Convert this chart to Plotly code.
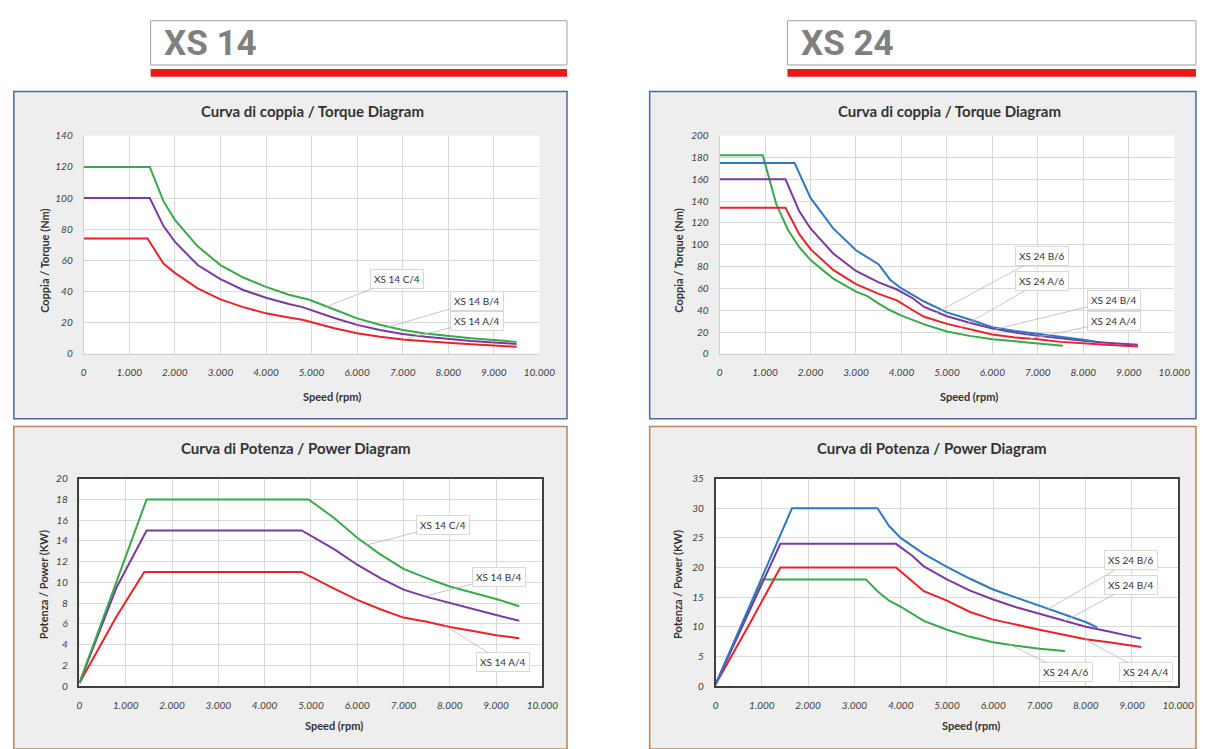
import plotly.graph_objects as go

W, H = 1208, 749

# ---------------- DATA ----------------
x_ticks = [0, 1000, 2000, 3000, 4000, 5000, 6000, 7000, 8000, 9000, 10000]
x_tick_text = ["0", "1.000", "2.000", "3.000", "4.000", "5.000", "6.000", "7.000", "8.000", "9.000", "10.000"]

# XS 14 torque (Nm)
xs14_c4_t_x = [0, 1450, 1750, 2000, 2500, 3000, 3500, 4000, 4500, 4950, 5500, 6000, 6500, 7000, 7500, 8000, 8500, 9000, 9500]
xs14_c4_t_y = [120, 120, 98, 86, 69, 57, 49, 43, 38, 34.7, 28.5, 22.8, 18.7, 15.3, 13.1, 11.5, 10.1, 8.9, 7.7]
xs14_b4_t_x = [0, 1450, 1750, 2000, 2500, 3000, 3500, 4000, 4500, 4800, 5500, 6000, 6500, 7000, 7500, 8000, 8500, 9000, 9500]
xs14_b4_t_y = [100, 100, 82, 72, 57, 48, 41, 36, 32, 30, 23, 18.6, 15.3, 12.7, 11, 9.5, 8.3, 7.3, 6.4]
xs14_a4_t_x = [0, 1400, 1750, 2000, 2500, 3000, 3500, 4000, 4500, 4800, 5500, 6000, 6500, 7000, 7500, 8000, 8500, 9000, 9500]
xs14_a4_t_y = [74, 74, 58, 52, 42, 35, 30, 26, 23.4, 21.9, 16.5, 13.3, 11.0, 9.3, 8.1, 7.0, 6.1, 5.3, 4.6]

# XS 14 power (kW)
xs14_c4_p_x = [0, 1450, 4950, 5500, 6000, 6500, 7000, 7500, 8000, 8500, 9000, 9500]
xs14_c4_p_y = [0.3, 18, 18, 16.2, 14.3, 12.7, 11.3, 10.4, 9.6, 9.0, 8.4, 7.7]
xs14_b4_p_x = [0, 800, 1450, 4800, 5500, 6000, 6500, 7000, 7500, 8000, 8500, 9000, 9500]
xs14_b4_p_y = [0.3, 9.5, 15, 15, 13.2, 11.7, 10.4, 9.3, 8.6, 8.0, 7.4, 6.85, 6.3]
xs14_a4_p_x = [0, 800, 1400, 4800, 5500, 6000, 6500, 7000, 7500, 8000, 8500, 9000, 9500]
xs14_a4_p_y = [0.3, 6.7, 11, 11, 9.4, 8.3, 7.4, 6.6, 6.2, 5.7, 5.3, 4.9, 4.6]

# XS 24 torque (Nm)
xs24_b6_t_x = [0, 1650, 2000, 2500, 3000, 3500, 3750, 4000, 4500, 5000, 5500, 6000, 6500, 7000, 7500, 8000, 8250]
xs24_b6_t_y = [175, 175, 143, 115, 95, 82, 68, 60, 48, 38, 31.5, 24.5, 21, 18.5, 15.5, 13, 11.3]
xs24_a6_t_x = [0, 950, 1250, 1500, 1750, 2000, 2500, 3000, 3250, 3500, 3750, 4000, 4500, 5000, 5500, 6000, 6500, 7000, 7550]
xs24_a6_t_y = [182, 182, 137, 114, 98, 86, 69, 57, 53, 46, 40, 35, 27, 20.5, 16.5, 13.5, 11.5, 9.5, 7.5]
xs24_b4_t_x = [0, 1450, 1750, 2000, 2500, 3000, 3500, 3900, 4250, 4500, 5000, 5500, 6000, 6500, 7000, 7500, 8000, 8500, 9200]
xs24_b4_t_y = [160, 160, 131, 115, 92, 76, 65.5, 59, 51, 43, 34.5, 28.5, 23.3, 19.5, 16.5, 14, 12, 10.3, 8.3]
xs24_a4_t_x = [0, 1450, 1750, 2000, 2500, 3000, 3500, 3900, 4250, 4500, 5000, 5500, 6000, 6500, 7000, 7500, 8000, 8500, 9200]
xs24_a4_t_y = [134, 134, 110, 96, 77, 64, 55, 49, 40, 34, 27.5, 23, 17.8, 15, 13.4, 11, 9.4, 8.3, 6.8]

# XS 24 power (kW)
xs24_b6_p_x = [0, 1650, 3500, 3750, 4000, 4500, 5000, 5500, 6000, 6500, 7000, 7500, 8000, 8250]
xs24_b6_p_y = [0.3, 30, 30, 27, 25, 22.3, 20.1, 18.1, 16.3, 14.9, 13.6, 12.1, 10.8, 9.9]
xs24_a6_p_x = [0, 1000, 3250, 3500, 3750, 4000, 4500, 5000, 5500, 6000, 6500, 7000, 7550]
xs24_a6_p_y = [0.3, 18, 18, 16, 14.4, 13.4, 11, 9.5, 8.3, 7.4, 6.8, 6.3, 5.9]
xs24_b4_p_x = [0, 700, 1400, 3900, 4250, 4500, 5000, 5500, 6000, 6500, 7000, 7500, 8000, 8500, 9200]
xs24_b4_p_y = [0.3, 12, 24, 24, 22, 20.2, 18, 16.1, 14.6, 13.3, 12.2, 11, 10.0, 9.2, 8.0]
xs24_a4_p_x = [0, 700, 1400, 3900, 4250, 4500, 5000, 5500, 6000, 6500, 7000, 7500, 8000, 8500, 9200]
xs24_a4_p_y = [0.3, 10, 20, 20, 17.7, 16, 14.4, 12.5, 11.2, 10.3, 9.5, 8.7, 7.9, 7.4, 6.6]

GREEN, PURPLE, RED, BLUE = "#3aa84a", "#7a3aa0", "#e8232b", "#2f78c0"
FONT = "Lato"

def px_x(p):
    return p / W

def px_y(p):
    return 1 - p / H

fig = go.Figure()

def add_line(x, y, color, xa, ya, name):
    fig.add_trace(go.Scatter(x=x, y=y, mode="lines", name=name,
                             line=dict(color=color, width=2),
                             xaxis=xa, yaxis=ya, showlegend=False,
                             hoverinfo="x+y+name"))

# top-left torque XS14
add_line(xs14_a4_t_x, xs14_a4_t_y, RED, "x", "y", "XS 14 A/4")
add_line(xs14_b4_t_x, xs14_b4_t_y, PURPLE, "x", "y", "XS 14 B/4")
add_line(xs14_c4_t_x, xs14_c4_t_y, GREEN, "x", "y", "XS 14 C/4")
# top-right torque XS24
add_line(xs24_a6_t_x, xs24_a6_t_y, GREEN, "x2", "y2", "XS 24 A/6")
add_line(xs24_a4_t_x, xs24_a4_t_y, RED, "x2", "y2", "XS 24 A/4")
add_line(xs24_b4_t_x, xs24_b4_t_y, PURPLE, "x2", "y2", "XS 24 B/4")
add_line(xs24_b6_t_x, xs24_b6_t_y, BLUE, "x2", "y2", "XS 24 B/6")
# bottom-left power XS14
add_line(xs14_a4_p_x, xs14_a4_p_y, RED, "x3", "y3", "XS 14 A/4")
add_line(xs14_b4_p_x, xs14_b4_p_y, PURPLE, "x3", "y3", "XS 14 B/4")
add_line(xs14_c4_p_x, xs14_c4_p_y, GREEN, "x3", "y3", "XS 14 C/4")
# bottom-right power XS24
add_line(xs24_a6_p_x, xs24_a6_p_y, GREEN, "x4", "y4", "XS 24 A/6")
add_line(xs24_a4_p_x, xs24_a4_p_y, RED, "x4", "y4", "XS 24 A/4")
add_line(xs24_b4_p_x, xs24_b4_p_y, PURPLE, "x4", "y4", "XS 24 B/4")
add_line(xs24_b6_p_x, xs24_b6_p_y, BLUE, "x4", "y4", "XS 24 B/6")

tickfont = dict(family=FONT, size=10, color="#404040", style="italic")

def xaxis(dom, anchor, power):
    return dict(domain=[px_x(dom[0]), px_x(dom[1])], anchor=anchor, range=[0, 10000],
                tickvals=x_ticks, ticktext=x_tick_text, tickfont=tickfont,
                showgrid=True, gridcolor="#d9d9d9", gridwidth=1, zeroline=False,
                showline=True, linecolor="#404040" if power else "#d0d0d0",
                linewidth=1.5 if power else 1, mirror=power,
                ticks="outside", ticklen=9, tickcolor="rgba(0,0,0,0)", fixedrange=True)

def yaxis(dom, anchor, rng, dt, power):
    return dict(domain=[px_y(dom[1]), px_y(dom[0])], anchor=anchor, range=rng,
                tickmode="linear", tick0=0, dtick=dt, tickfont=tickfont,
                showgrid=True, gridcolor="#d9d9d9", gridwidth=1, zeroline=False,
                showline=True, linecolor="#404040" if power else "#d0d0d0",
                linewidth=1.5 if power else 1, mirror=power,
                ticks="outside", ticklen=8, tickcolor="rgba(0,0,0,0)", fixedrange=True)

TL_X, TL_Y = (82, 545), (131, 353)
TR_X, TR_Y = (728, 1190), (131, 353)
BL_X, BL_Y = (77.7, 548), (480, 691)
BR_X, BR_Y = (724, 1194), (480, 691)

shapes = []
def rect(x0, y0, x1, y1, fill, line_color, lw):
    shapes.append(dict(type="rect", xref="paper", yref="paper",
                       x0=px_x(x0), x1=px_x(x1), y0=px_y(y1), y1=px_y(y0),
                       fillcolor=fill, line=dict(color=line_color, width=lw), layer="below"))

# panels
rect(11, 86, 573, 419, "#eeeeee", "#4a6b9a", 1.5)
rect(657, 86, 1212, 419, "#eeeeee", "#4a6b9a", 1.5)
rect(11, 427, 573, 755, "#eeeeee", "#b5845a", 1.5)
rect(657, 427, 1212, 755, "#eeeeee", "#b5845a", 1.5)
# plot areas (white)
for (xd, yd) in [(TL_X, TL_Y), (TR_X, TR_Y), (BL_X, BL_Y), (BR_X, BR_Y)]:
    rect(xd[0], yd[0], xd[1], yd[1], "white", "rgba(0,0,0,0)", 0)
# headers
rect(150, 14, 573, 59, "white", "#a0a0a0", 1)
rect(150, 63, 573, 71, "#e31b1b", "#e31b1b", 0)
rect(797, 14, 1212, 59, "white", "#a0a0a0", 1)
rect(797, 63, 1212, 71, "#e31b1b", "#e31b1b", 0)

ann = []
def text(x, y, s, size, bold=True, color="#333333", angle=0, xanchor="center", family=FONT):
    ann.append(dict(x=px_x(x), y=px_y(y), xref="paper", yref="paper", text=(f"<b>{s}</b>" if bold else s),
                    showarrow=False, xanchor=xanchor, yanchor="middle", textangle=angle,
                    font=dict(family=family, size=size, color=color)))

text(162, 37.5, "XS 14", 35, color="#808080", xanchor="left", family="Roboto")
text(809, 37.5, "XS 24", 35, color="#808080", xanchor="left", family="Roboto")

text(314, 106, "Curva di coppia / Torque Diagram", 15)
text(962, 106, "Curva di coppia / Torque Diagram", 15)
text(298, 449, "Curva di Potenza / Power Diagram", 15)
text(944, 449, "Curva di Potenza / Power Diagram", 15)

text(334, 396, "Speed (rpm)", 11)
text(981, 396, "Speed (rpm)", 11)
text(336, 731, "Speed (rpm)", 11)
text(983, 731, "Speed (rpm)", 11)

text(42, 258, "Coppia / Torque (Nm)", 11, angle=-90)
text(686, 258, "Coppia / Torque (Nm)", 11, angle=-90)
text(41, 588, "Potenza / Power (KW)", 11, angle=-90)
text(686, 588, "Potenza / Power (KW)", 11, angle=-90)

def label(s, xa, ya, lx, ly, tx, ty):
    ann.append(dict(x=tx, y=ty, xref=xa, yref=ya, ax=lx, ay=ly, axref=xa, ayref=ya,
                    text=s, showarrow=True, arrowhead=0, arrowwidth=0.8, arrowcolor="#b8b8b8",
                    standoff=0, startstandoff=0,
                    font=dict(family=FONT, size=10, color="#333333"),
                    bgcolor="white", bordercolor="#d8d8d8", borderwidth=1, borderpad=3))

label("XS 14 C/4", "x", "y", 6870, 48, 5300, 30)
label("XS 14 B/4", "x", "y", 8640, 34, 6600, 16.5)
label("XS 14 A/4", "x", "y", 8640, 21, 7100, 10)

label("XS 24 B/6", "x2", "y2", 7090, 90, 4760, 37.5)
label("XS 24 A/6", "x2", "y2", 7090, 67, 5300, 24)
label("XS 24 B/4", "x2", "y2", 8680, 49, 6060, 22.5)
label("XS 24 A/4", "x2", "y2", 8680, 30, 6830, 13.8)

label("XS 14 C/4", "x3", "y3", 7860, 15.5, 6200, 13.6)
label("XS 14 B/4", "x3", "y3", 9060, 10.5, 7500, 8.7)
label("XS 14 A/4", "x3", "y3", 9160, 2.3, 7900, 5.8)

label("XS 24 B/6", "x4", "y4", 8980, 21.2, 7150, 12.8)
label("XS 24 B/4", "x4", "y4", 8980, 17, 7530, 10.9)
label("XS 24 A/6", "x4", "y4", 7580, 2.3, 6330, 7.1)
label("XS 24 A/4", "x4", "y4", 9300, 2.3, 7980, 7.9)

fig.update_layout(
    width=W, height=H, autosize=False,
    margin=dict(l=0, r=0, t=0, b=0),
    paper_bgcolor="white", plot_bgcolor="white",
    showlegend=False,
    xaxis=xaxis(TL_X, "y", False), yaxis=yaxis(TL_Y, "x", [0, 140], 20, False),
    xaxis2=xaxis(TR_X, "y2", False), yaxis2=yaxis(TR_Y, "x2", [0, 200], 20, False),
    xaxis3=xaxis(BL_X, "y3", True), yaxis3=yaxis(BL_Y, "x3", [0, 20], 2, True),
    xaxis4=xaxis(BR_X, "y4", True), yaxis4=yaxis(BR_Y, "x4", [0, 35], 5, True),
    shapes=shapes, annotations=ann,
)

fig.write_html("out.html", config={"displayModeBar": False},
               post_script="document.body.style.margin='0';document.body.style.overflow='hidden';")
